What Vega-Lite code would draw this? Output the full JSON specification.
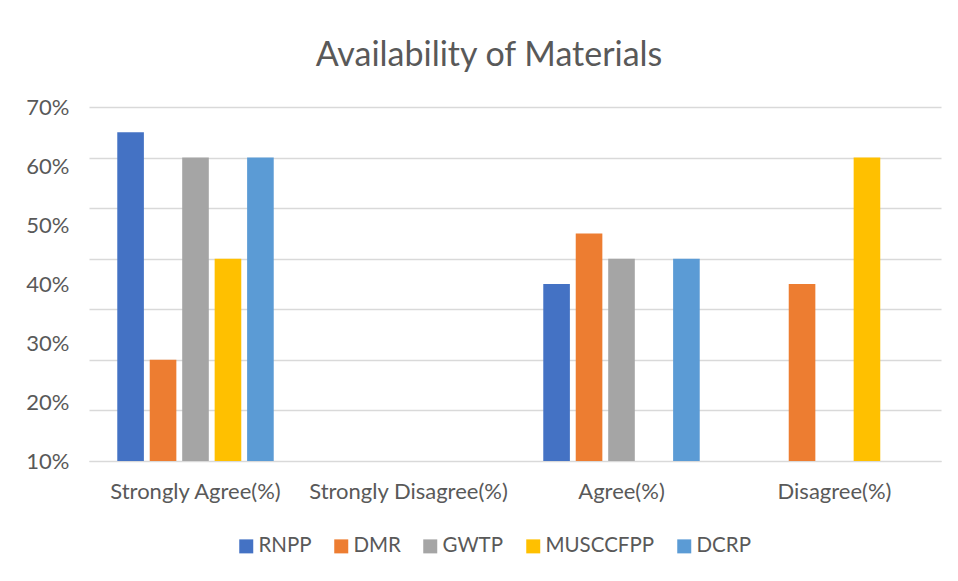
{
  "$schema": "https://vega.github.io/schema/vega-lite/v6.json",
  "autosize": "none",
  "width": 852,
  "height": 354,
  "padding": {"left": 89, "top": 107, "right": 17, "bottom": 120},
  "background": "white",
  "title": {"text": "Availability of Materials", "fontSize": 34, "font": "Lato", "fontWeight": "normal", "color": "#595959", "anchor": "middle", "offset": 23, "dx": -26},
  "config": {"view": {"stroke": null}, "font": "Lato"},
  "data": {"values": [
    {"response": "Strongly Agree(%)", "project": "RNPP", "value": 0.65},
    {"response": "Strongly Agree(%)", "project": "DMR", "value": 0.20},
    {"response": "Strongly Agree(%)", "project": "GWTP", "value": 0.60},
    {"response": "Strongly Agree(%)", "project": "MUSCCFPP", "value": 0.40},
    {"response": "Strongly Agree(%)", "project": "DCRP", "value": 0.60},
    {"response": "Agree(%)", "project": "RNPP", "value": 0.35},
    {"response": "Agree(%)", "project": "DMR", "value": 0.45},
    {"response": "Agree(%)", "project": "GWTP", "value": 0.40},
    {"response": "Agree(%)", "project": "DCRP", "value": 0.40},
    {"response": "Disagree(%)", "project": "DMR", "value": 0.35},
    {"response": "Disagree(%)", "project": "MUSCCFPP", "value": 0.60}
  ]},
  "encoding": {
    "x": {"field": "response", "type": "nominal", "sort": null,
      "scale": {"domain": ["Strongly Agree(%)", "Strongly Disagree(%)", "Agree(%)", "Disagree(%)"], "paddingInner": 0.235, "paddingOuter": 0.1175},
      "axis": {"title": null, "labelAngle": 0, "labelFontSize": 22, "labelColor": "#595959", "ticks": false, "domainColor": "#d9d9d9", "labelPadding": 20, "labelFont": "Lato", "labelLimit": 0}}
  },
  "layer": [
    {
      "mark": {"type": "bar"},
      "encoding": {
        "xOffset": {"field": "project", "type": "nominal", "scale": {"domain": ["RNPP", "DMR", "GWTP", "MUSCCFPP", "DCRP"], "paddingInner": 0.18, "paddingOuter": 0.1}},
        "y": {"field": "value", "type": "quantitative", "scale": {"domain": [0, 0.7], "nice": false},
          "axis": {"title": null, "values": [0, 0.1, 0.2, 0.3, 0.4, 0.5, 0.6, 0.7], "labels": false, "ticks": false, "domain": false, "grid": true, "gridColor": "#d9d9d9", "gridWidth": 1.3}},
        "color": {"field": "project", "type": "nominal",
          "scale": {"domain": ["RNPP", "DMR", "GWTP", "MUSCCFPP", "DCRP"], "range": ["#4472C4", "#ED7D31", "#A5A5A5", "#FFC000", "#5B9BD5"]},
          "legend": {"title": null, "orient": "none", "direction": "horizontal", "legendX": 147, "legendY": 429, "symbolType": "square", "symbolSize": 196, "symbolStrokeWidth": 0, "labelFontSize": 20.5, "labelColor": "#595959", "labelFont": "Lato", "columnPadding": 19, "labelOffset": 2}}
      }
    },
    {
      "mark": {"type": "point", "opacity": 0},
      "encoding": {
        "y": {"field": "value", "type": "quantitative", "scale": {"domain": [0.1, 0.7], "nice": false},
          "axis": {"title": null, "orient": "left", "values": [0.1, 0.2, 0.3, 0.4, 0.5, 0.6, 0.7], "format": ".0%", "grid": false, "ticks": false, "domain": false, "labelFontSize": 22, "labelColor": "#595959", "labelFont": "Lato", "labelPadding": 20}}
      }
    }
  ],
  "resolve": {"scale": {"y": "independent"}, "axis": {"y": "independent"}}
}
